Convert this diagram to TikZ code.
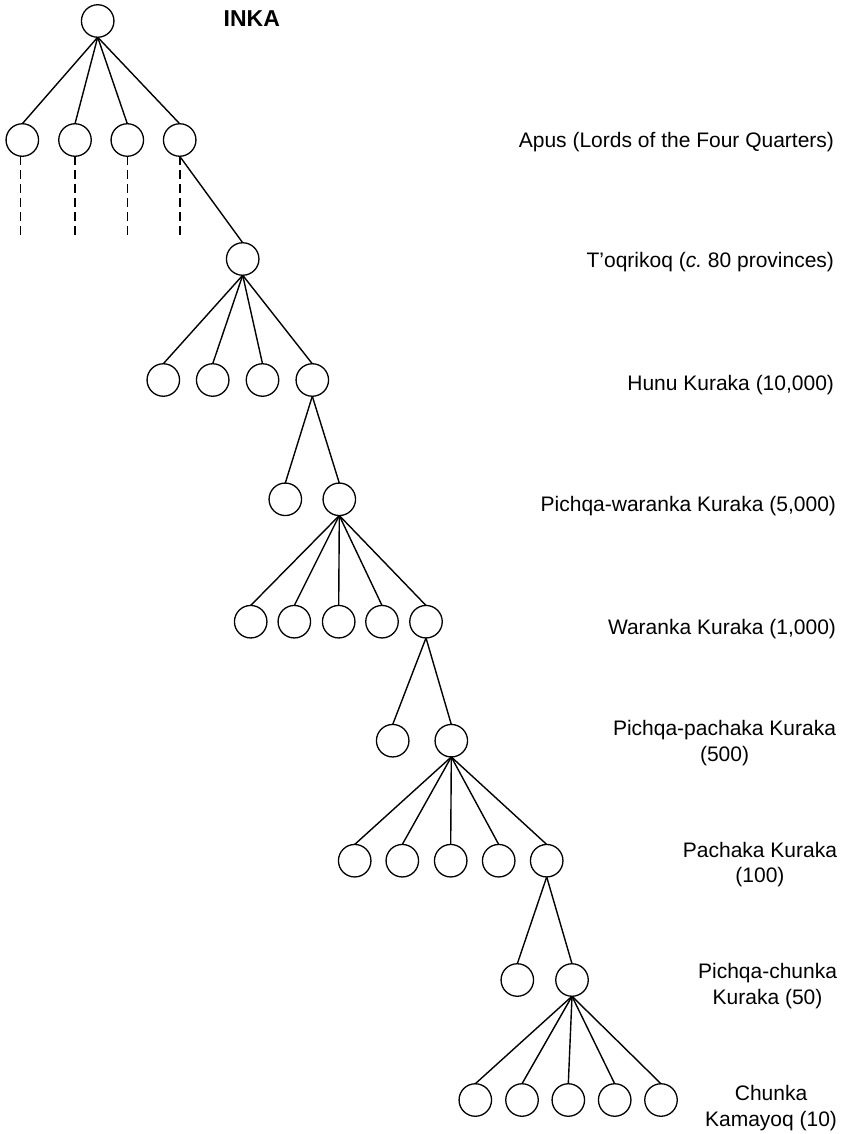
\documentclass[tikz,border=0pt]{standalone}
\usepackage{fontspec}
\setmainfont{Liberation Sans}
\begin{document}
\begin{tikzpicture}[x=1pt,y=-1pt,
  circ/.style={circle,draw,line width=1.3pt,minimum size=32.5pt,inner sep=0pt,outer sep=0pt},
  link/.style={line width=1.4pt},
  dashlink/.style={line width=1.6pt,dash pattern=on 9pt off 5pt},
  lbl/.style={inner sep=0pt,outer sep=0pt,font=\fontsize{21}{25.3}\selectfont},
  lblm/.style={lbl,align=center,anchor=east}]
\useasboundingbox (0,0) rectangle (842,1134);
% nodes
\node[circ] (top) at (97.7,21) {};
\node[circ] (a1) at (22.3,140) {};
\node[circ] (a2) at (75,140) {};
\node[circ] (a3) at (127.3,140) {};
\node[circ] (a4) at (179.7,140) {};
\node[circ] (t) at (242.7,259) {};
\node[circ] (h1) at (163.3,380) {};
\node[circ] (h2) at (212.7,380) {};
\node[circ] (h3) at (262.5,380) {};
\node[circ] (h4) at (312.3,380) {};
\node[circ] (p1) at (285.3,499.3) {};
\node[circ] (p2) at (339.3,499.3) {};
\node[circ] (w1) at (250.7,621.7) {};
\node[circ] (w2) at (294.3,621.7) {};
\node[circ] (w3) at (338.7,621.7) {};
\node[circ] (w4) at (382,621.7) {};
\node[circ] (w5) at (426,621.7) {};
\node[circ] (q1) at (392.7,740.7) {};
\node[circ] (q2) at (451.3,740.7) {};
\node[circ] (k1) at (354.7,860.7) {};
\node[circ] (k2) at (402.3,860.7) {};
\node[circ] (k3) at (450.7,860.7) {};
\node[circ] (k4) at (498.7,860.7) {};
\node[circ] (k5) at (546.7,860.7) {};
\node[circ] (c1) at (517.3,980) {};
\node[circ] (c2) at (572,980) {};
\node[circ] (m1) at (475.3,1100) {};
\node[circ] (m2) at (522,1100) {};
\node[circ] (m3) at (568.3,1100) {};
\node[circ] (m4) at (614.7,1100) {};
\node[circ] (m5) at (661,1100) {};
% dashed ends
\coordinate (d1) at (20.5,239);
\coordinate (d2) at (75,239);
\coordinate (d3) at (127.3,239);
\coordinate (d4) at (179.7,239);
% connectors
\foreach \c in {a1,a2,a3,a4} \draw[link] (top.south) -- (\c.north);
\draw[link] (a4.south) -- (t.north);
\foreach \c in {h1,h2,h3,h4} \draw[link] (t.south) -- (\c.north);
\foreach \c in {p1,p2} \draw[link] (h4.south) -- (\c.north);
\foreach \c in {w1,w2,w3,w4,w5} \draw[link] (p2.south) -- (\c.north);
\foreach \c in {q1,q2} \draw[link] (w5.south) -- (\c.north);
\foreach \c in {k1,k2,k3,k4,k5} \draw[link] (q2.south) -- (\c.north);
\foreach \c in {c1,c2} \draw[link] (k5.south) -- (\c.north);
\foreach \c in {m1,m2,m3,m4,m5} \draw[link] (c2.south) -- (\c.north);
\foreach \i in {1,2,3,4} \draw[dashlink] (a\i.south -| d\i) -- (d\i);
% labels
\node[inner sep=0pt,anchor=base west,font=\fontsize{23}{27}\selectfont\bfseries] (inka) at (223.5,26.5) {INKA};
\node[lbl,anchor=base east] (l1) at (834,148) {Apus (Lords of the Four Quarters)};
\node[lbl,anchor=base east] (l2) at (834,267.5) {T’oqrikoq (\textit{c.}\ 80 provinces)};
\node[lbl,anchor=base east] (l3) at (834,390) {Hunu Kuraka (10,000)};
\node[lbl,anchor=base east] (l4) at (836,511) {Pichqa-waranka Kuraka (5,000)};
\node[lbl,anchor=base east] (l5) at (836,634) {Waranka Kuraka (1,000)};
\node[lblm] (l6) at (836,743) {Pichqa-pachaka Kuraka\\(500)};
\node[lblm] (l7) at (837,864.5) {Pachaka Kuraka\\(100)};
\node[lblm] (l8) at (837,986) {Pichqa-chunka\\Kuraka (50)};
\node[lblm] (l9) at (837,1108) {Chunka\\Kamayoq (10)};
\end{tikzpicture}
\end{document}
